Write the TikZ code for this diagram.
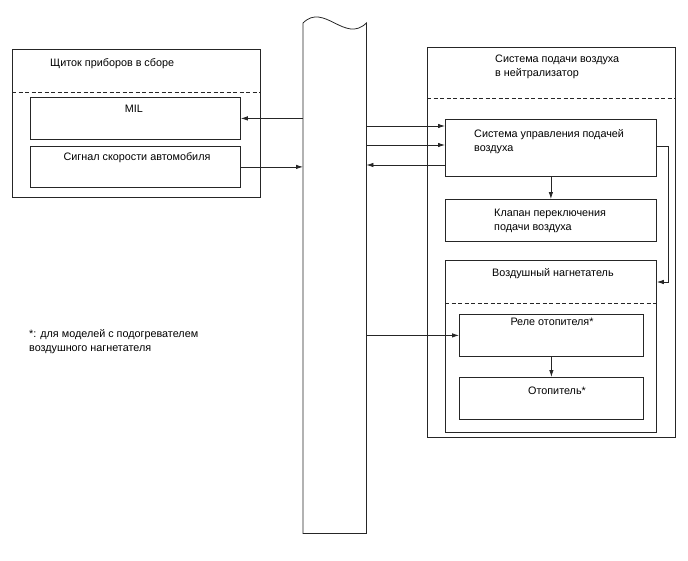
\documentclass[tikz,border=0pt]{standalone}
\usepackage{fontspec}
\setmainfont{Liberation Sans}
\usetikzlibrary{arrows.meta}
\tikzset{
  box/.style={draw=black!85, line width=0.8pt, rectangle, anchor=north west, inner sep=0pt},
  lbl/.style={inner sep=0pt, font=\fontsize{10.8}{14}\selectfont, align=left},
  sep/.style={draw=black!85, line width=0.8pt, dash pattern=on 4pt off 2.5pt},
  arr/.style={draw=black!85, line width=0.8pt, -{Latex[length=7pt,width=4.5pt]}},
}
\begin{document}
\begin{tikzpicture}[x=1pt,y=-1pt]
\useasboundingbox (0,0) rectangle (688,560);
% bus
\node[minimum width=63pt, minimum height=510pt, inner sep=0pt, anchor=north west] (bus) at (303,23) {};
\draw[black!85, line width=0.8pt] (bus.north west) -- (bus.south west) -- (bus.south east) -- (bus.north east)
  .. controls (345,44) and (324,2) .. (bus.north west);
% instrument panel
\begin{scope}
  \node[box, minimum width=248pt, minimum height=148pt] (panel) at (12,49) {};
  \draw[sep] ([yshift=-43pt]panel.north west) -- ([yshift=-43pt]panel.north east);
  \node[lbl, anchor=base west] (paneltitle) at (50,66) {Щиток приборов в сборе};
  \node[box, minimum width=210pt, minimum height=42pt] (mil) at (30,97) {};
  \node[lbl, anchor=base] (miltext) at (134,112) {MIL};
  \node[box, minimum width=210pt, minimum height=41pt] (speed) at (30,146) {};
  \node[lbl, anchor=base] (speedtext) at (137,160) {Сигнал скорости автомобиля};
\end{scope}
% secondary air system
\begin{scope}
  \node[box, minimum width=248pt, minimum height=390pt] (air) at (427,47) {};
  \draw[sep] ([yshift=-51pt]air.north west) -- ([yshift=-51pt]air.north east);
  \node[lbl, anchor=base west] (airtitle) at (495,76) {Система подачи воздуха\\в нейтрализатор};
  \node[box, minimum width=211pt, minimum height=57pt] (ctrl) at (445,119) {};
  \node[lbl, anchor=base west] (ctrltext) at (474,151) {Система управления подачей\\воздуха};
  \node[box, minimum width=211pt, minimum height=42pt] (valve) at (445,199) {};
  \node[lbl, anchor=base west] (valvetext) at (494,230) {Клапан переключения\\подачи воздуха};
  \node[box, minimum width=211pt, minimum height=172pt] (pump) at (445,260) {};
  \draw[sep] ([yshift=-43pt]pump.north west) -- ([yshift=-43pt]pump.north east);
  \node[lbl, anchor=base west] (pumptitle) at (492,276) {Воздушный нагнетатель};
  \node[box, minimum width=184pt, minimum height=42pt] (relay) at (459,314) {};
  \node[lbl, anchor=base] (relaytext) at (552,325) {Реле отопителя*};
  \node[box, minimum width=184pt, minimum height=42pt] (heater) at (459,377) {};
  \node[lbl, anchor=base] (heatertext) at (557,394) {Отопитель*};
\end{scope}
% footnote
\node[lbl, anchor=base west] (note) at (29,351) {*: для моделей с подогревателем\\воздушного нагнетателя};
% connections
\coordinate (c1) at ([yshift=-7pt]ctrl.north west);
\coordinate (c2) at ([yshift=-26pt]ctrl.north west);
\coordinate (c3) at ([yshift=-46pt]ctrl.north west);
\coordinate (c4) at ([yshift=-27pt]ctrl.north east);
\coordinate (c5) at ([yshift=-22pt]pump.north east);
\draw[arr] (bus.west |- mil.east) -- (mil.east);
\draw[arr] (speed.east) -- (bus.west |- speed.east);
\draw[arr] (bus.east |- c1) -- (c1);
\draw[arr] (bus.east |- c2) -- (c2);
\draw[arr] (c3) -- (bus.east |- c3);
\draw[arr] (ctrl.south) -- (valve.north);
\draw[arr] (c4) -- ++(12,0) |- (c5);
\draw[arr] (bus.east |- relay.west) -- (relay.west);
\draw[arr] (relay.south) -- (heater.north);
\end{tikzpicture}
\end{document}
